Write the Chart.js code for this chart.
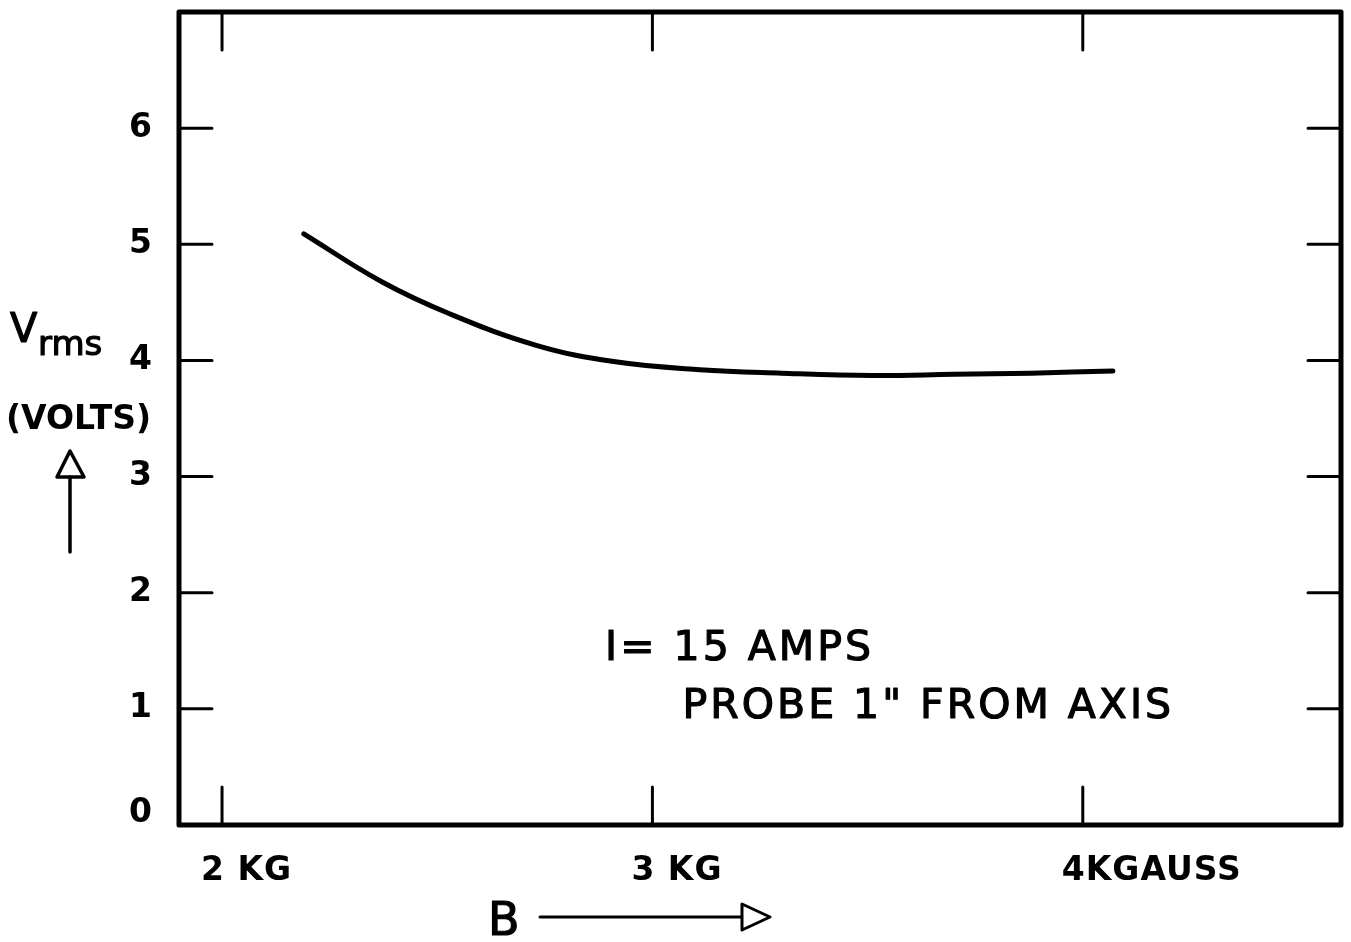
<!DOCTYPE html>
<html>
<head>
<meta charset="utf-8">
<script src="https://cdn.jsdelivr.net/npm/chart.js@4/dist/chart.umd.min.js"></script>
<style>
  html, body { margin: 0; padding: 0; background: #fff; }
  #wrap { width: 1351px; height: 942px; position: relative; }
</style>
</head>
<body>
<div id="wrap"><canvas id="grafico"></canvas></div>
<script>
// field B (kilogauss) and rms voltage
const bField = [2.19, 2.37, 2.53, 2.73, 2.91, 3.11, 3.30, 3.51, 3.70, 3.88, 4.07];
const vRms = [5.09, 4.68, 4.40, 4.13, 3.99, 3.92, 3.89, 3.87, 3.88, 3.89, 3.91];

const xTicks = [2, 3, 4];
const xTickLabels = ["2 KG", "3 KG", "4KGAUSS"];
const yTicks = [0, 1, 2, 3, 4, 5, 6];
const yTickLabels = ["0", "1", "2", "3", "4", "5", "6"];

const noteLines = ["I= 15 AMPS", "PROBE 1\" FROM AXIS"];
const noteX = [2.89, 3.07];
const noteY = [1.42, 0.92];

const tinta = "#000";
const fonte = '"DejaVu Sans", sans-serif';

function setaVazia(ctx, pts) {
    ctx.beginPath();
    ctx.moveTo(pts[0][0], pts[0][1]);
    ctx.lineTo(pts[1][0], pts[1][1]);
    ctx.lineTo(pts[2][0], pts[2][1]);
    ctx.closePath();
    ctx.fillStyle = "#fff";
    ctx.fill();
    ctx.stroke();
    ctx.fillStyle = tinta;
}

// lettering a bit heavier than the normal face
function letra(ctx, txt, x, y) {
    ctx.lineWidth = 1.2;
    ctx.fillText(txt, x, y);
    ctx.strokeText(txt, x, y);
}

const moldura = {
    id: "moldura",
    afterDraw(chart) {
        const ctx = chart.ctx;
        const a = chart.chartArea;
        const sx = chart.scales.x;
        const sy = chart.scales.y;
        ctx.save();
        ctx.strokeStyle = tinta;
        ctx.fillStyle = tinta;
        ctx.lineCap = "round";
        ctx.lineJoin = "round";

        // box
        ctx.lineWidth = 5;
        ctx.strokeRect(a.left, a.top, a.right - a.left, a.bottom - a.top);

        // inward ticks
        ctx.lineWidth = 3;
        xTicks.forEach(v => {
            const px = sx.getPixelForValue(v);
            ctx.beginPath();
            ctx.moveTo(px, a.bottom); ctx.lineTo(px, a.bottom - 38);
            ctx.moveTo(px, a.top); ctx.lineTo(px, a.top + 38);
            ctx.stroke();
        });
        yTicks.forEach(v => {
            if (v === 0) return;
            const py = sy.getPixelForValue(v);
            ctx.beginPath();
            ctx.moveTo(a.left, py); ctx.lineTo(a.left + 33, py);
            ctx.moveTo(a.right, py); ctx.lineTo(a.right - 33, py);
            ctx.stroke();
        });

        // tick labels
        ctx.font = "bold 33px " + fonte;
        ctx.textBaseline = "middle";
        ctx.textAlign = "right";
        yTicks.forEach((v, i) => {
            let py = sy.getPixelForValue(v);
            if (v === 0) py -= 12;
            ctx.fillText(yTickLabels[i], a.left - 27, py);
        });
        ctx.textAlign = "left";
        ctx.textBaseline = "alphabetic";
        ctx.letterSpacing = "1px";
        xTicks.forEach((v, i) => {
            const px = sx.getPixelForValue(v);
            ctx.fillText(xTickLabels[i], px - 21, a.bottom + 55);
        });
        ctx.letterSpacing = "0px";

        // y title
        ctx.font = "40px " + fonte;
        letra(ctx, "V", 10, 342);
        ctx.font = "34px " + fonte;
        letra(ctx, "rms", 38, 355);
        ctx.font = "bold 33px " + fonte;
        ctx.fillText("(VOLTS)", 6, 429);
        ctx.lineWidth = 3.5;
        setaVazia(ctx, [[70, 451], [57, 477], [84, 477]]);
        ctx.beginPath();
        ctx.moveTo(70, 477); ctx.lineTo(70, 552);
        ctx.stroke();

        // x title
        ctx.font = "46px " + fonte;
        letra(ctx, "B", 488, 935);
        ctx.lineWidth = 3;
        ctx.beginPath();
        ctx.moveTo(540, 917); ctx.lineTo(742, 917);
        ctx.stroke();
        setaVazia(ctx, [[742, 904], [770, 917], [742, 930]]);

        // note
        ctx.font = "41px " + fonte;
        ctx.letterSpacing = "3px";
        noteLines.forEach((t, i) => {
            letra(ctx, t, sx.getPixelForValue(noteX[i]), sy.getPixelForValue(noteY[i]));
        });
        ctx.restore();
    }
};

const ctx = document.getElementById("grafico").getContext("2d");
const grafico = new Chart(ctx, {
    type: "scatter",
    data: {
        datasets: [{
            data: bField.map((b, i) => ({ x: b, y: vRms[i] })),
            showLine: true,
            borderColor: tinta,
            borderWidth: 5,
            pointRadius: 0,
            tension: 0.4,
            borderCapStyle: "round"
        }]
    },
    options: {
        responsive: true,
        maintainAspectRatio: false,
        animation: false,
        layout: { padding: { left: 179, right: 10, top: 12, bottom: 117 } },
        plugins: { legend: { display: false }, tooltip: { enabled: false } },
        scales: {
            x: { type: "linear", min: 1.9, max: 4.6, display: false },
            y: { type: "linear", min: 0, max: 7, display: false }
        }
    },
    plugins: [moldura]
});
</script>
</body>
</html>
